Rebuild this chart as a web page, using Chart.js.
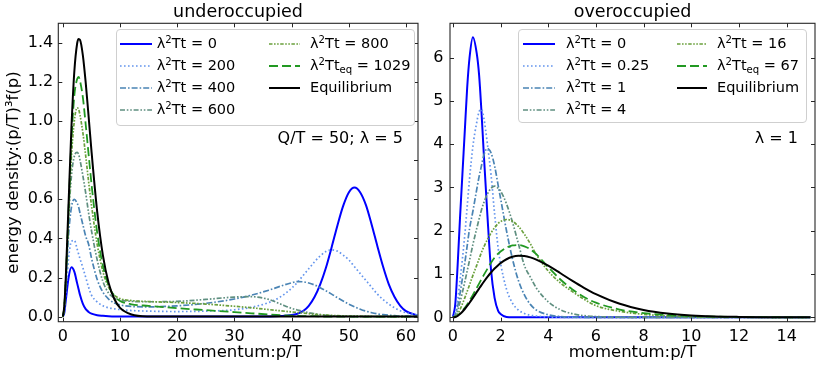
<!DOCTYPE html>
<html>
<head>
<meta charset="utf-8">
<script src="https://cdn.jsdelivr.net/npm/chart.js@4.4.1/dist/chart.umd.min.js"></script>
<style>
  html, body { margin: 0; padding: 0; background: #fff; }
  body { width: 830px; height: 369px; position: relative; overflow: hidden; font-family: "DejaVu Sans", sans-serif; }
  canvas { position: absolute; top: 0; }
  .ttl { position: absolute; font-size: 17.5px; line-height: 20px; text-align: center; color: #000; }
  .ann { position: absolute; font-size: 16px; line-height: 20px; color: #000; white-space: nowrap; text-align: right; }
  .legend { position: absolute; border: 1px solid #cfcfcf; border-radius: 4px; background: rgba(255,255,255,0.8); box-sizing: border-box; z-index: 5; }
  .lg-text { position: absolute; font-size: 14.5px; line-height: 18px; white-space: nowrap; color: #000; z-index: 6; }
  .lg-text sup { font-size: 0.7em; vertical-align: 0.45em; line-height: 0; }
  .lg-text sub { font-size: 0.7em; vertical-align: -0.25em; line-height: 0; }
  svg.lg-line { position: absolute; z-index: 6; overflow: visible; }
</style>
</head>
<body>
<canvas id="cL" width="425" height="369" style="left:0px"></canvas>
<canvas id="cR" width="405" height="369" style="left:425px"></canvas>
<div class="ttl" style="left:58px;width:360px;top:1px;">underoccupied</div>
<div class="ttl" style="left:450px;width:365px;top:1px;">overoccupied</div>
<div class="ann" style="right:427px;top:128px;">Q/T = 50; λ = 5</div>
<div class="ann" style="right:32px;top:128px;">λ = 1</div>
<script>
// ---------------- DATA ----------------
// Left panel (underoccupied): momentum grid p/T
const underX = [0,0.25,0.5,1,1.5,2,2.5,2.75,3,3.5,4,4.5,5,6,7,8,9,10,12,15,20,25,30,33,36,38,40,41,42,43,44,45,46,47,48,49,50,51,52,53,54,55,56,57,58,59,60,62];
const underT0   = [0,0.02,0.08,0.2,0.252,0.23,0.17,0.14,0.11,0.065,0.038,0.024,0.015,0.007,0.004,0.002,0.001,0.001,0,0,0,0,0,0,0.001,0.003,0.008,0.015,0.028,0.055,0.1,0.165,0.25,0.355,0.465,0.565,0.635,0.66,0.635,0.57,0.47,0.36,0.255,0.165,0.1,0.055,0.028,0.006];
const underT200 = [0,0.03,0.12,0.3,0.385,0.39,0.345,0.32,0.295,0.25,0.2,0.15,0.11,0.075,0.055,0.045,0.04,0.036,0.031,0.028,0.026,0.028,0.035,0.048,0.072,0.1,0.145,0.175,0.21,0.245,0.28,0.31,0.333,0.341,0.335,0.315,0.29,0.255,0.22,0.185,0.15,0.115,0.087,0.064,0.045,0.03,0.02,0.008];
const underT400 = [0,0.04,0.16,0.42,0.56,0.6,0.58,0.56,0.53,0.47,0.41,0.37,0.3,0.19,0.125,0.09,0.07,0.06,0.052,0.05,0.055,0.068,0.09,0.11,0.135,0.155,0.173,0.179,0.178,0.172,0.162,0.148,0.132,0.115,0.097,0.08,0.064,0.05,0.038,0.028,0.02,0.014,0.01,0.007,0.005,0.003,0.002,0.001];
const underT600 = [0,0.05,0.18,0.5,0.72,0.82,0.84,0.83,0.8,0.72,0.63,0.53,0.44,0.29,0.18,0.12,0.095,0.085,0.078,0.076,0.078,0.088,0.1,0.102,0.088,0.065,0.042,0.034,0.027,0.02,0.015,0.01,0.007,0.005,0.003,0.002,0.001,0,0,0,0,0,0,0,0,0,0,0];
const underT800 = [0,0.05,0.18,0.52,0.82,1.0,1.068,1.06,1.03,0.94,0.82,0.69,0.57,0.37,0.23,0.15,0.11,0.092,0.082,0.077,0.072,0.064,0.053,0.045,0.036,0.03,0.024,0.021,0.018,0.015,0.012,0.01,0.008,0.006,0.005,0.004,0.003,0.002,0.002,0.001,0.001,0,0,0,0,0,0,0];
const underTeq  = [0,0.05,0.18,0.55,0.9,1.13,1.215,1.226,1.205,1.12,0.98,0.83,0.68,0.43,0.26,0.16,0.105,0.08,0.063,0.055,0.043,0.033,0.023,0.017,0.011,0.008,0.005,0.004,0.003,0.002,0.002,0.001,0,0,0,0,0,0,0,0,0,0,0,0,0,0,0,0];
const underEquil= [0,0.055,0.193,0.582,0.969,1.252,1.398,1.42,1.415,1.335,1.194,1.024,0.848,0.537,0.313,0.172,0.09,0.045,0.011,0.001,0,0,0,0,0,0,0,0,0,0,0,0,0,0,0,0,0,0,0,0,0,0,0,0,0,0,0,0];
const underTimes = ['0','200','400','600','800'];
const underTeqLabel = '1029';
const underXTicks = [0,10,20,30,40,50,60];
const underYTicks = [0,0.2,0.4,0.6,0.8,1.0,1.2,1.4];
const underYTickLabels = ['0.0','0.2','0.4','0.6','0.8','1.0','1.2','1.4'];

// Right panel (overoccupied)
const overX = [0,0.1,0.2,0.3,0.4,0.5,0.6,0.7,0.84,1,1.1,1.2,1.3,1.45,1.6,1.75,1.9,2,2.25,2.5,2.75,3,3.25,3.5,4,4.5,5,5.5,6,7,8,9,10,11,12,13,14,15];
const overT0    = [0,0.3,1.2,2.3,3.3,4.3,5.3,6.0,6.47,6.1,5.6,4.75,3.75,2.35,1.1,0.45,0.15,0.08,0.01,0,0,0,0,0,0,0,0,0,0,0,0,0,0,0,0,0,0,0];
const overT025  = [0,0.1,0.4,0.85,1.35,1.9,2.55,3.2,3.95,4.5,4.75,4.8,4.6,4.0,3.3,2.4,1.6,1.25,0.65,0.33,0.17,0.09,0.05,0.03,0.01,0.003,0,0,0,0,0,0,0,0,0,0,0,0];
const overT1    = [0,0.06,0.25,0.55,0.9,1.25,1.65,2.05,2.45,2.95,3.25,3.5,3.75,3.9,3.8,3.5,3.05,2.75,2.0,1.35,0.85,0.52,0.3,0.17,0.06,0.02,0.006,0.002,0,0,0,0,0,0,0,0,0,0];
const overT4    = [0,0.04,0.16,0.35,0.58,0.82,1.07,1.32,1.68,2.05,2.27,2.48,2.65,2.85,2.98,3.03,2.98,2.92,2.62,2.2,1.7,1.2,0.93,0.68,0.36,0.18,0.085,0.04,0.02,0.004,0.001,0,0,0,0,0,0,0];
const overT16   = [0,0.02,0.08,0.18,0.31,0.45,0.6,0.75,0.97,1.2,1.35,1.5,1.63,1.8,1.95,2.07,2.17,2.21,2.26,2.22,2.1,1.92,1.7,1.45,1.07,0.8,0.6,0.42,0.27,0.14,0.07,0.035,0.016,0.007,0.003,0.001,0,0];
const overTeq   = [0,0.01,0.04,0.09,0.15,0.22,0.3,0.39,0.52,0.68,0.78,0.88,0.98,1.12,1.26,1.38,1.47,1.52,1.61,1.66,1.67,1.64,1.57,1.46,1.16,0.88,0.65,0.47,0.34,0.18,0.1,0.055,0.03,0.016,0.008,0.004,0.002,0.001];
const overEquil = [0,0.0095,0.036,0.077,0.13,0.193,0.263,0.338,0.45,0.582,0.664,0.745,0.823,0.934,1.036,1.127,1.206,1.252,1.342,1.398,1.42,1.415,1.385,1.335,1.194,1.024,0.848,0.683,0.537,0.313,0.172,0.09,0.045,0.022,0.011,0.005,0.0023,0.001];
const overTimes = ['0','0.25','1','4','16'];
const overTeqLabel = '67';
const overXTicks = [0,2,4,6,8,10,12,14];
const overYTicks = [0,1,2,3,4,5,6];
const overYTickLabels = ['0','1','2','3','4','5','6'];

// ---------------- STYLES ----------------
const seriesStyles = [
  { color: '#0000ff', dash: [], w: 2.0 },
  { color: '#6495ed', dash: [1.6, 2.4], w: 1.7 },
  { color: '#4a84b4', dash: [6, 2, 1.6, 2], w: 1.7 },
  { color: '#5f8f80', dash: [5, 1.8, 1.6, 1.8, 1.6, 1.8], w: 1.7 },
  { color: '#6aa03c', dash: [3.5, 1.5, 1.6, 1.5, 1.6, 1.5], w: 1.7 },
  { color: '#229922', dash: [9, 4], w: 1.8 },
  { color: '#000000', dash: [], w: 2.0 }
];

Chart.defaults.font.family = '"DejaVu Sans", sans-serif';
Chart.defaults.color = '#000';

const framePlugin = {
  id: 'frame',
  afterDraw(chart) {
    const { ctx, chartArea: a, scales } = chart;
    const sx = scales.x, sy = scales.y;
    ctx.save();
    ctx.strokeStyle = '#262626';
    ctx.lineWidth = 1;
    ctx.beginPath();
    const L = 4;
    for (const t of sx.ticks) {
      const p = Math.round(sx.getPixelForValue(t.value)) + 0.5;
      if (p < a.left - 0.5 || p > a.right + 0.5) continue;
      ctx.moveTo(p, a.bottom); ctx.lineTo(p, a.bottom - L);
      ctx.moveTo(p, a.top); ctx.lineTo(p, a.top + L);
    }
    for (const t of sy.ticks) {
      const p = Math.round(sy.getPixelForValue(t.value)) + 0.5;
      if (p < a.top - 0.5 || p > a.bottom + 0.5) continue;
      ctx.moveTo(a.left, p); ctx.lineTo(a.left + L, p);
      ctx.moveTo(a.right, p); ctx.lineTo(a.right - L, p);
    }
    ctx.stroke();
    ctx.lineWidth = 1.1;
    ctx.strokeRect(a.left, a.top, a.right - a.left, a.bottom - a.top);
    ctx.restore();
  }
};

function makeLabels(times, teq) {
  const labels = times.map(t => 'λ²Tt = ' + t);
  labels.push('λ²Tt_eq = ' + teq);
  labels.push('Equilibrium');
  return labels;
}

function buildChart(id, xs, series, labels, cfg) {
  const datasets = series.map((ys, i) => ({
    label: labels[i],
    data: xs.map((x, k) => ({ x: x, y: ys[k] })),
    borderColor: seriesStyles[i].color,
    borderDash: seriesStyles[i].dash,
    borderWidth: seriesStyles[i].w,
    pointRadius: 0,
    fill: false,
    cubicInterpolationMode: 'monotone',
    order: 10 - i
  }));
  return new Chart(document.getElementById(id), {
    type: 'line',
    data: { datasets },
    options: {
      responsive: false,
      animation: false,
      devicePixelRatio: 1,
      layout: { padding: { left: 0, top: 23.3, right: cfg.padRight, bottom: 0 } },
      plugins: { legend: { display: false }, tooltip: { enabled: false } },
      scales: {
        x: {
          type: 'linear',
          min: cfg.xmin, max: cfg.xmax,
          afterBuildTicks: s => { s.ticks = cfg.xTicks.map(v => ({ value: v })); },
          afterFit: s => { s.height = 47.3; },
          grid: { display: false, drawTicks: false },
          border: { display: false },
          ticks: { font: { size: 16 }, padding: 6, maxRotation: 0, autoSkip: false, callback: v => String(v) },
          title: { display: true, text: 'momentum:p/T', font: { size: 16.5 }, padding: { top: 0, bottom: 6.2 } }
        },
        y: {
          type: 'linear',
          min: cfg.ymin, max: cfg.ymax,
          afterBuildTicks: s => { s.ticks = cfg.yTicks.map(v => ({ value: v })); },
          afterFit: s => { s.width = cfg.yWidth; },
          grid: { display: false, drawTicks: false },
          border: { display: false },
          ticks: { font: { size: 16 }, padding: cfg.yPad, autoSkip: false,
                   callback: (v) => { const i = cfg.yTicks.indexOf(v); return i >= 0 ? cfg.yTickLabels[i] : ''; } },
          title: { display: cfg.yTitle, text: 'energy density:(p/T)³f(p)', font: { size: 16.5 }, padding: { top: 4, bottom: 0 } }
        }
      }
    },
    plugins: [framePlugin]
  });
}

const underLabels = makeLabels(underTimes, underTeqLabel);
const overLabels = makeLabels(overTimes, overTeqLabel);

buildChart('cL', underX,
  [underT0, underT200, underT400, underT600, underT800, underTeq, underEquil], underLabels,
  { xmin: -0.8, xmax: 62.1, ymin: -0.026, ymax: 1.5, xTicks: underXTicks, yTicks: underYTicks,
    yTickLabels: underYTickLabels, yWidth: 58.3, yPad: 5, padRight: 7, yTitle: true });

buildChart('cR', overX,
  [overT0, overT025, overT1, overT4, overT16, overTeq, overEquil], overLabels,
  { xmin: -0.12, xmax: 15.19, ymin: -0.1, ymax: 6.79, xTicks: overXTicks, yTicks: overYTicks,
    yTickLabels: overYTickLabels, yWidth: 25, yPad: 6.5, padRight: 15, yTitle: false });

// ---------------- HTML LEGENDS ----------------
function legendHtml(label) {
  if (label === 'Equilibrium') return label;
  let m = label.match(/^λ²Tt_eq = (.*)$/);
  if (m) return 'λ<sup>2</sup>Tt<sub>eq</sub> = ' + m[1];
  m = label.match(/^λ²Tt = (.*)$/);
  return 'λ<sup>2</sup>Tt = ' + m[1];
}
function buildLegend(labels, box, col1, col2) {
  const d = document.createElement('div');
  d.className = 'legend';
  d.style.left = box.left + 'px'; d.style.top = box.top + 'px';
  d.style.width = box.width + 'px'; d.style.height = box.height + 'px';
  document.body.appendChild(d);
  labels.forEach((lab, i) => {
    const col = i < 4 ? col1 : col2;
    const row = i < 4 ? i : i - 4;
    const cy = 43.5 + row * 22;
    const st = seriesStyles[i];
    const svg = document.createElementNS('http://www.w3.org/2000/svg', 'svg');
    svg.setAttribute('class', 'lg-line');
    svg.setAttribute('width', col.lineW); svg.setAttribute('height', 6);
    svg.style.left = col.lineX + 'px'; svg.style.top = (cy - 3) + 'px';
    const ln = document.createElementNS('http://www.w3.org/2000/svg', 'line');
    ln.setAttribute('x1', 0); ln.setAttribute('x2', col.lineW);
    ln.setAttribute('y1', 3); ln.setAttribute('y2', 3);
    ln.setAttribute('stroke', st.color);
    ln.setAttribute('stroke-width', st.w);
    if (st.dash.length) ln.setAttribute('stroke-dasharray', st.dash.join(' '));
    svg.appendChild(ln);
    document.body.appendChild(svg);
    const t = document.createElement('div');
    t.className = 'lg-text';
    t.innerHTML = legendHtml(lab);
    t.style.left = col.textX + 'px'; t.style.top = (cy - 9.5) + 'px';
    document.body.appendChild(t);
  });
}
buildLegend(underLabels, { left: 115.7, top: 29.3, width: 299.3, height: 96.7 },
  { lineX: 120, lineW: 32, textX: 156.7 }, { lineX: 269, lineW: 31, textX: 310 });
buildLegend(overLabels, { left: 518.3, top: 29.3, width: 289, height: 94 },
  { lineX: 523, lineW: 32, textX: 566 }, { lineX: 677, lineW: 30, textX: 717 });
</script>
</body>
</html>
